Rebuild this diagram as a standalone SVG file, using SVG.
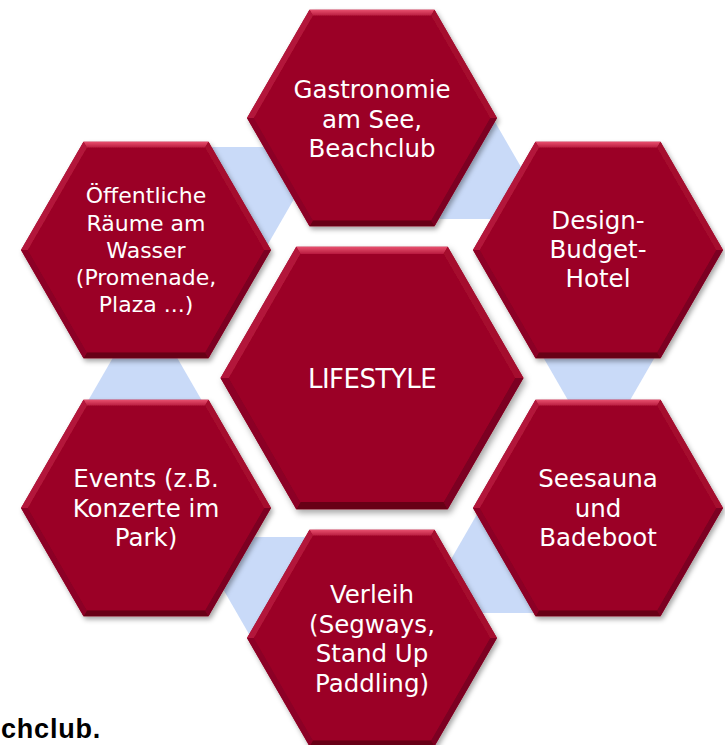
<svg xmlns="http://www.w3.org/2000/svg" xmlns:xlink="http://www.w3.org/1999/xlink" width="725" height="745" viewBox="0 0 725 745">
<style>
  .face{fill:#9B0526}
  .ft{fill:url(#gTop)}
  .fur{fill:#A50B2D}
  .flr{fill:#7C0320}
  .fb{fill:#680018}
  .fll{fill:#8C0525}
  .ful{fill:#B3173B}
  .conn{fill:#C9DAF8}
  .lbl{font-family:"DejaVu Sans","Liberation Sans",sans-serif;font-size:24.5px;fill:#FFFFFF;text-anchor:middle}
  .small{font-size:22px}
  .center{font-size:26px;letter-spacing:-0.5px}
  .bg{font-family:"Liberation Sans",Arial,sans-serif;font-weight:bold;font-size:27px;letter-spacing:0.8px;fill:#000000}
</style>
<defs>
  <linearGradient id="gTop" x1="0" y1="0" x2="0" y2="1">
    <stop offset="0" stop-color="#E8506F"/>
    <stop offset="1" stop-color="#B81A3E"/>
  </linearGradient>
  <filter id="sh" x="-10%" y="-10%" width="125%" height="125%">
    <feDropShadow dx="2" dy="3" stdDeviation="2.5" flood-color="#000000" flood-opacity="0.35"/>
  </filter>
  <g id="hex">
    <polygon class="face" points="-125,0 -62.5,-108.25 62.5,-108.25 125,0 62.5,108.25 -62.5,108.25"/>
    <polygon class="ft" points="-62.5,-108.25 62.5,-108.25 59.04,-102.25 -59.04,-102.25"/>
    <polygon class="fur" points="62.5,-108.25 125,0 118.07,0 59.04,-102.25"/>
    <polygon class="flr" points="125,0 62.5,108.25 59.04,102.25 118.07,0"/>
    <polygon class="fb" points="62.5,108.25 -62.5,108.25 -59.04,102.25 59.04,102.25"/>
    <polygon class="fll" points="-62.5,108.25 -125,0 -118.07,0 -59.04,102.25"/>
    <polygon class="ful" points="-125,0 -62.5,-108.25 -59.04,-102.25 -118.07,0"/>
    <polygon class="face" points="-118.07,0 -59.04,-102.25 59.04,-102.25 118.07,0 59.04,102.25 -59.04,102.25"/>
  </g>
  <polygon id="bhex" points="-60,0 -30,-52 30,-52 60,0 30,52 -30,52"/>
</defs>

<rect width="725" height="745" fill="#FFFFFF"/>

<text class="bg" x="1" y="738">chclub.</text>

<g id="connectors">
  <use href="#bhex" class="conn" transform="translate(234,199)"/>
  <use href="#bhex" class="conn" transform="translate(461,167)"/>
  <use href="#bhex" class="conn" transform="translate(599,350)"/>
  <use href="#bhex" class="conn" transform="translate(510,561)"/>
  <use href="#bhex" class="conn" transform="translate(283,589)"/>
  <use href="#bhex" class="conn" transform="translate(145,406)"/>
</g>

<g id="node-gastronomie">
  <use href="#hex" filter="url(#sh)" transform="translate(372,118)"/>
  <text class="lbl" x="372" y="98">Gastronomie</text>
  <text class="lbl" x="372" y="127.5">am See,</text>
  <text class="lbl" x="372" y="157">Beachclub</text>
</g>

<g id="node-design">
  <use href="#hex" filter="url(#sh)" transform="translate(598,250)"/>
  <text class="lbl" x="598" y="229">Design-</text>
  <text class="lbl" x="598" y="258">Budget-</text>
  <text class="lbl" x="598" y="287">Hotel</text>
</g>

<g id="node-seesauna">
  <use href="#hex" filter="url(#sh)" transform="translate(598,508)"/>
  <text class="lbl" x="598" y="487">Seesauna</text>
  <text class="lbl" x="598" y="516.5">und</text>
  <text class="lbl" x="598" y="546">Badeboot</text>
</g>

<g id="node-verleih">
  <use href="#hex" filter="url(#sh)" transform="translate(372,638)"/>
  <text class="lbl" x="372" y="603">Verleih</text>
  <text class="lbl" x="372" y="632.5">(Segways,</text>
  <text class="lbl" x="372" y="662">Stand Up</text>
  <text class="lbl" x="372" y="691.5">Paddling)</text>
</g>

<g id="node-events">
  <use href="#hex" filter="url(#sh)" transform="translate(146,508)"/>
  <text class="lbl" x="146" y="487">Events (z.B.</text>
  <text class="lbl" x="146" y="516.5">Konzerte im</text>
  <text class="lbl" x="146" y="546">Park)</text>
</g>

<g id="node-oeffentliche">
  <use href="#hex" filter="url(#sh)" transform="translate(146,250)"/>
  <text class="lbl small" x="146" y="203">Öffentliche</text>
  <text class="lbl small" x="146" y="230.5">Räume am</text>
  <text class="lbl small" x="146" y="258">Wasser</text>
  <text class="lbl small" x="146" y="285">(Promenade,</text>
  <text class="lbl small" x="146" y="312">Plaza ...)</text>
</g>

<g id="node-lifestyle">
  <use href="#hex" filter="url(#sh)" transform="translate(372,378) scale(1.212)"/>
  <text class="lbl center" x="372" y="388">LIFESTYLE</text>
</g>
</svg>
